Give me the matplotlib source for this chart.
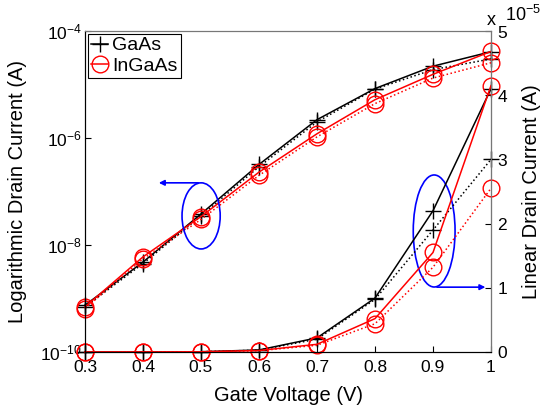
import numpy as np
import matplotlib
matplotlib.use('Agg')
from matplotlib import pyplot as plt
from matplotlib.patches import Ellipse
from matplotlib.ticker import ScalarFormatter

plt.rcParams['font.family'] = ['Liberation Sans', 'DejaVu Sans']
plt.rcParams['mathtext.fontset'] = 'custom'
plt.rcParams['mathtext.rm'] = 'Liberation Sans'
plt.rcParams['xtick.direction'] = 'in'
plt.rcParams['ytick.direction'] = 'in'

#----------------------------Data----------------------------------------------#
gate_v = [0.3, 0.4, 0.5, 0.6, 0.7, 0.8, 0.9, 1.0]
gaas_solid = [7.5e-10, 4.8e-9, 3.8e-8, 3.2e-7, 2.2e-6, 8.4e-6, 2.2e-5, 4.1e-5]
gaas_dash = [7.0e-10, 4.5e-9, 3.5e-8, 2.9e-7, 2.0e-6, 8.2e-6, 1.9e-5, 3.0e-5]
ingaas_solid = [7.0e-10, 6.0e-9, 3.4e-8, 2.3e-7, 1.2e-6, 5.2e-6, 1.55e-5, 4.15e-5]
ingaas_dash = [6.5e-10, 5.5e-9, 3.0e-8, 2.0e-7, 1.05e-6, 4.4e-6, 1.32e-5, 2.55e-5]

x_ticks = [0.3, 0.4, 0.5, 0.6, 0.7, 0.8, 0.9, 1.0]
x_ticklabels = ['0.3', '0.4', '0.5', '0.6', '0.7', '0.8', '0.9', '1']

#----------------------------Plotting------------------------------------------#
fig = plt.figure(figsize=(5.41, 4.09), dpi=100)
ax = fig.add_axes([85/541, 1-352/409, 406/541, 321/409])
ax2 = ax.twinx()

mk = dict(markersize=12, mew=1.0, mfc='none', clip_on=False, lw=1.1)

# log axis
ax.plot(gate_v, gaas_solid, 'k-', marker='+', label='GaAs', **mk)
ax.plot(gate_v, gaas_dash, 'k:', marker='+', **mk)
ax.plot(gate_v, ingaas_solid, 'r-', marker='o', label='InGaAs', **mk)
ax.plot(gate_v, ingaas_dash, 'r:', marker='o', **mk)
ax.set_yscale('log')
ax.set_ylim(1e-10, 1e-4)
ax.set_yticks([1e-10, 1e-8, 1e-6, 1e-4])
ax.yaxis.set_minor_locator(matplotlib.ticker.NullLocator())
ax.set_xlim(0.3, 1.0)
ax.set_xticks(x_ticks)
ax.set_xticklabels(x_ticklabels)

# linear axis
ax2.plot(gate_v, gaas_solid, 'k-', marker='+', **mk)
ax2.plot(gate_v, gaas_dash, 'k:', marker='+', **mk)
ax2.plot(gate_v, ingaas_solid, 'r-', marker='o', **mk)
ax2.plot(gate_v, ingaas_dash, 'r:', marker='o', **mk)
ax2.set_ylim(0, 5e-5)
ax2.set_yticks([0, 1e-5, 2e-5, 3e-5, 4e-5, 5e-5])
fmt = ScalarFormatter(useMathText=True)
fmt.set_powerlimits((0, 0))
ax2.yaxis.set_major_formatter(fmt)
ax2.yaxis.get_offset_text().set_visible(False)
ax2.text(1.0, 1.005, 'x', transform=ax.transAxes, ha='center', va='bottom', fontsize=13)
ax2.text(1.035, 1.02, r'10$^{-5}$', transform=ax.transAxes, ha='left', va='bottom', fontsize=13)

ax.tick_params(axis='x', labelsize=12.5, length=4, width=0.8, pad=6)
ax.tick_params(axis='y', labelsize=12.5, length=4, width=0.8, pad=2)
ax2.tick_params(axis='y', labelsize=12.5, length=4, width=0.8, pad=4)
for a in (ax, ax2):
    for s in a.spines.values():
        s.set_linewidth(0.8)
ax.spines['top'].set_color('#777777')
ax2.spines['top'].set_color('#777777')
ax2.spines['right'].set_color('#777777')
ax.spines['left'].set_color('black')

ax.set_xlabel('Gate Voltage (V)', fontsize=14.5, labelpad=8)
ax.set_ylabel('Logarithmic Drain Current (A)', fontsize=14.5, labelpad=10)
ax2.set_ylabel('Linear Drain Current (A)', fontsize=14.5, labelpad=10)

leg = ax.legend(loc='upper left', fontsize=14, handlelength=0.9, handletextpad=0.2,
                borderpad=0.15, borderaxespad=0.15, labelspacing=0.15, fancybox=False,
                framealpha=1)
leg.get_frame().set_edgecolor('black')
leg.get_frame().set_linewidth(0.8)

# blue annotations (axes fraction)
ax2.add_patch(Ellipse((0.286, 0.424), 0.094, 0.206, transform=ax.transAxes,
                      fill=False, ec='blue', lw=1.2, clip_on=False))
ax2.annotate('', xy=(0.175, 0.527), xytext=(0.286, 0.527), xycoords='axes fraction',
             arrowprops=dict(arrowstyle='-|>', color='blue', lw=1.2, mutation_scale=8))
ax2.add_patch(Ellipse((0.860, 0.377), 0.103, 0.349, transform=ax.transAxes,
                      fill=False, ec='blue', lw=1.2, clip_on=False))
ax2.annotate('', xy=(0.993, 0.202), xytext=(0.860, 0.202), xycoords='axes fraction',
             arrowprops=dict(arrowstyle='-|>', color='blue', lw=1.2, mutation_scale=8))

fig.savefig('out.png', dpi=100)
